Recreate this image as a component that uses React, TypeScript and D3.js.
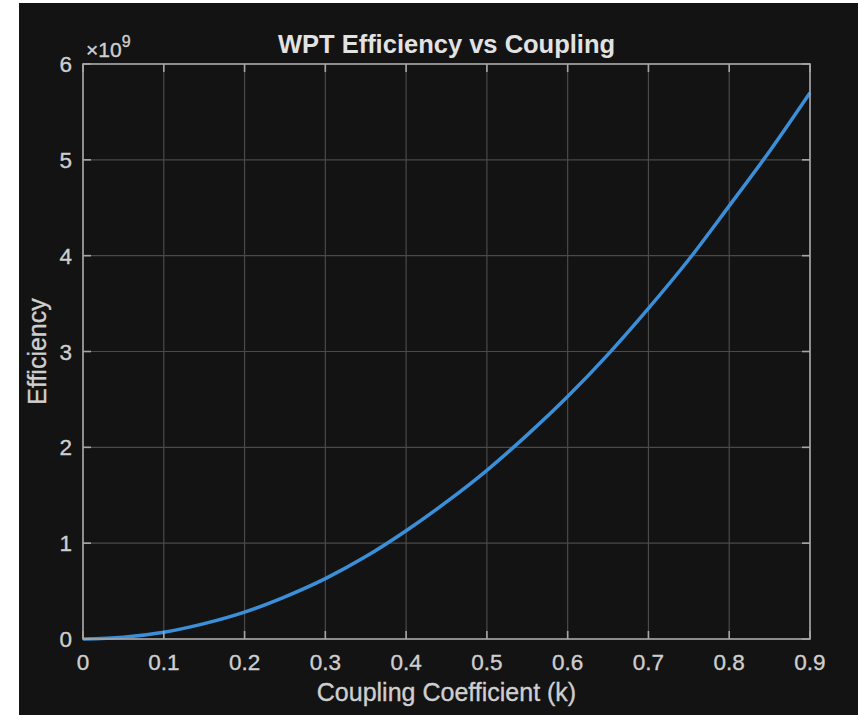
import React from "react";
import * as d3 from "d3";

const couplingK = [0, 0.05, 0.1, 0.15, 0.2, 0.25, 0.3, 0.35, 0.4, 0.45, 0.5, 0.55, 0.6, 0.65, 0.7, 0.75, 0.8, 0.85, 0.9];
const efficiencyE9 = [0, 0.018, 0.07, 0.16, 0.28, 0.44, 0.63, 0.86, 1.13, 1.43, 1.76, 2.13, 2.53, 2.97, 3.45, 3.96, 4.52, 5.09, 5.7];
const xTicks = [0, 0.1, 0.2, 0.3, 0.4, 0.5, 0.6, 0.7, 0.8, 0.9];
const yTicks = [0, 1, 2, 3, 4, 5, 6];

const W = 858, H = 715;
const L = 83, R = 810, T = 64, B = 639;
const FONT = "'Liberation Sans', Arial, sans-serif";
const TXT = "#cfcfcf";

export default function App() {
  const x = d3.scaleLinear().domain([0, 0.9]).range([L, R]);
  const y = d3.scaleLinear().domain([0, 6]).range([B, T]);
  const pts = couplingK.map((k, i) => [k, efficiencyE9[i]] as [number, number]);
  const line = d3.line<[number, number]>().x(d => x(d[0])).y(d => y(d[1])).curve(d3.curveMonotoneX);
  const tl = 8;
  const txtStroke = { stroke: TXT, strokeWidth: 0.35 };
  return (
    <svg width={W} height={H} style={{ position: "absolute", left: 0, top: 0, background: "#fff" }}>
      <rect x={19} y={3} width={W - 19} height={H - 3} fill="#131313" />
      {xTicks.map(t => (
        <line key={"gx" + t} x1={x(t)} x2={x(t)} y1={T} y2={B} stroke="#4a4a4a" strokeWidth={1.2} />
      ))}
      {yTicks.map(t => (
        <line key={"gy" + t} x1={L} x2={R} y1={y(t)} y2={y(t)} stroke="#4a4a4a" strokeWidth={1.2} />
      ))}
      <path d={line(pts) || ""} fill="none" stroke="#3b8fd8" strokeWidth={3.5} />
      <rect x={L} y={T} width={R - L} height={B - T} fill="none" stroke="#a6a6a6" strokeWidth={1.6} />
      {xTicks.map(t => (
        <g key={"tx" + t}>
          <line x1={x(t)} x2={x(t)} y1={B} y2={B - tl} stroke="#a6a6a6" strokeWidth={1.6} />
          <line x1={x(t)} x2={x(t)} y1={T} y2={T + tl} stroke="#a6a6a6" strokeWidth={1.6} />
          <text x={x(t)} y={670} textAnchor="middle" fontFamily={FONT} fontSize={22.5} fill={TXT} {...txtStroke}>{String(t)}</text>
        </g>
      ))}
      {yTicks.map(t => (
        <g key={"ty" + t}>
          <line x1={L} x2={L + tl} y1={y(t)} y2={y(t)} stroke="#a6a6a6" strokeWidth={1.6} />
          <line x1={R} x2={R - tl} y1={y(t)} y2={y(t)} stroke="#a6a6a6" strokeWidth={1.6} />
          <text x={72} y={y(t) + 8} textAnchor="end" fontFamily={FONT} fontSize={22.5} fill={TXT} {...txtStroke}>{String(t)}</text>
        </g>
      ))}
      <text x={86} y={57} fontFamily={FONT} fontSize={21} fill={TXT} {...txtStroke}>×10<tspan fontSize={16} dy={-10}>9</tspan></text>
      <text x={(L + R) / 2} y={53} textAnchor="middle" fontFamily={FONT} fontSize={25.5} fontWeight="bold" fill="#e2e2e2">WPT Efficiency vs Coupling</text>
      <text x={(L + R) / 2} y={701} textAnchor="middle" fontFamily={FONT} fontSize={25} fill={TXT} {...txtStroke}>Coupling Coefficient (k)</text>
      <text transform={`translate(46,${(T + B) / 2}) rotate(-90)`} textAnchor="middle" fontFamily={FONT} fontSize={25} fill={TXT} {...txtStroke}>Efficiency</text>
    </svg>
  );
}
